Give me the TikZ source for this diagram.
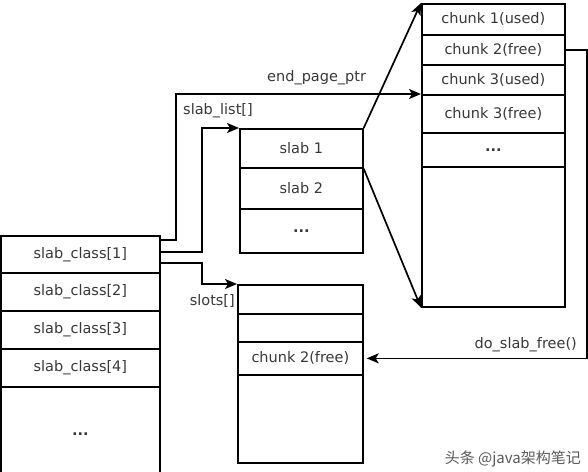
\documentclass[tikz,border=0pt]{standalone}
\usepackage{fontspec}
\setmainfont{DejaVu Sans}
\newfontfamily\cjk{Noto Sans CJK SC}
\usetikzlibrary{arrows.meta,calc}
\begin{document}
\begin{tikzpicture}[x=1pt,y=-1pt,
  cell/.style={draw, line width=1.7pt, inner sep=0pt, anchor=north west, text=black!78, font=\fontsize{14.5}{16}\selectfont},
  lbl/.style={inner sep=0pt, text=black!78, font=\fontsize{14.5}{16}\selectfont},
  conn/.style={line width=1.7pt, -{Stealth[length=12pt,width=10pt,inset=3pt]}}]
\useasboundingbox (0,0) rectangle (588,471);
\clip (0,0) rectangle (588,471);
% left table
\node[cell, minimum width=159pt, minimum height=37pt] (lc1) at (0,235) {slab\_class[1]};
\node[cell, minimum width=159pt, minimum height=38pt] (lc2) at (0,272) {slab\_class[2]};
\node[cell, minimum width=159pt, minimum height=38pt] (lc3) at (0,310) {slab\_class[3]};
\node[cell, minimum width=159pt, minimum height=38pt] (lc4) at (0,348) {slab\_class[4]};
\node[cell, minimum width=159pt, minimum height=95pt] (lc5) at (0,386) {\textbf{...}};
% slab list
\node[cell, minimum width=123pt, minimum height=39pt] (s1) at (239,128) {slab 1};
\node[cell, minimum width=123pt, minimum height=41pt] (s2) at (239,167) {slab 2};
\node[cell, minimum width=123pt, minimum height=44pt] (s3) at (239,208) {\textbf{...}};
% chunks
\node[cell, minimum width=143pt, minimum height=31pt] (c1) at (421,3) {chunk 1(used)};
\node[cell, minimum width=143pt, minimum height=30pt] (c2) at (421,34) {chunk 2(free)};
\node[cell, minimum width=143pt, minimum height=30pt] (c3) at (421,64) {chunk 3(used)};
\node[cell, minimum width=143pt, minimum height=38pt] (c4) at (421,94) {chunk 3(free)};
\node[cell, minimum width=143pt, minimum height=34pt] (c5) at (421,132) {\textbf{...}};
\node[cell, minimum width=143pt, minimum height=140pt] (c6) at (421,166) {};
% slots
\node[cell, minimum width=125pt, minimum height=29pt] (t1) at (237,284) {};
\node[cell, minimum width=125pt, minimum height=28pt] (t2) at (237,313) {};
\node[cell, minimum width=125pt, minimum height=33pt] (t3) at (237,341) {chunk 2(free)};
\node[cell, minimum width=125pt, minimum height=88pt] (t4) at (237,374) {};
% labels
\node[lbl, anchor=west] (lep) at (267,78) {end\_page\_ptr};
\node[lbl, anchor=west] (lsl) at (183,111) {slab\_list[]};
\node[lbl, anchor=east] (lso) at (235,301) {slots[]};
\node[lbl, anchor=east] (lfr) at (577,345) {do\_slab\_free()};
\node[inner sep=0pt, anchor=east, text=black!65, font=\cjk\fontsize{15}{17}\selectfont] (wm) at (581,459) {头条 @java架构笔记};
% connectors
\draw[conn] ([yshift=-5pt]lc1.north east) -- ++(15,0) |- (c4.north west);
\draw[conn] ([yshift=-17pt]lc1.north east) -- ++(41,0) |- (s1.north west);
\draw[conn] ([yshift=-28pt]lc1.north east) -- ++(41,0) |- (t1.north west);
\draw[conn] (s1.north east) -- (c1.north west);
\draw[conn] (s1.south east) -- (c6.south west);
\draw[conn, shorten >=3pt] (c2.east) -- ++(21,0) |- (t3.east);
\end{tikzpicture}
\end{document}
